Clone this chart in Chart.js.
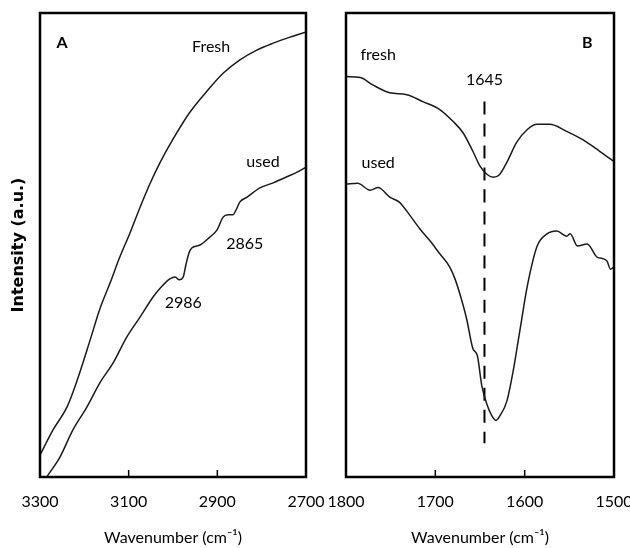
<!DOCTYPE html>
<html>
<head>
<meta charset="utf-8">
<script src="https://cdn.jsdelivr.net/npm/chart.js@4.4.0/dist/chart.umd.min.js"></script>
<style>
  body { margin: 0; background: #fff; }
  #wrap { position: relative; width: 630px; height: 548px; }
  #panelA { position: absolute; left: 0; top: 0; }
  #panelB { position: absolute; left: 326px; top: 0; }
</style>
</head>
<body>
<div id="wrap">
  <canvas id="panelA" width="326" height="548"></canvas>
  <canvas id="panelB" width="304" height="548"></canvas>
</div>
<script>
// panel A, 3300-2700 cm-1
let waveA_fresh = [3300, 3271, 3239, 3216, 3187, 3165, 3142, 3120, 3097, 3074, 3052, 3029, 3000, 2962, 2923, 2887, 2849, 2811, 2774, 2736, 2700];
let intA_fresh  = [4.7, 10.1, 15.1, 20.9, 29.5, 36.2, 41.8, 47.4, 52.6, 58.2, 63.2, 67.8, 72.8, 78.6, 83.2, 87.0, 89.9, 92.0, 93.5, 94.8, 95.9];

let waveA_used = [3300, 3282, 3255, 3226, 3194, 3165, 3135, 3104, 3074, 3045, 3029, 3007, 2995, 2986, 2977, 2971, 2964, 2957, 2939, 2917, 2901, 2887, 2876, 2865, 2858, 2849, 2833, 2804, 2774, 2743, 2720, 2700];
let intA_used  = [-2.2, 0.4, 4.3, 10.1, 15.1, 20.3, 24.6, 30.2, 34.5, 38.8, 40.7, 42.7, 43.1, 42.5, 43.1, 45.7, 48.3, 49.4, 50.0, 51.7, 53.2, 56.0, 56.5, 56.5, 57.5, 59.3, 60.3, 62.3, 63.4, 64.7, 65.7, 66.8];

// panel B, 1800-1500 cm-1
let waveB_fresh = [1800, 1784, 1770, 1751, 1732, 1714, 1695, 1680, 1669, 1658, 1650, 1642, 1635, 1628, 1620, 1609, 1597, 1586, 1572, 1553, 1535, 1516, 1500];
let intB_fresh  = [86.3, 86.1, 84.5, 82.8, 82.4, 80.9, 79.2, 76.6, 74.2, 70.2, 67.0, 65.2, 64.6, 65.2, 67.8, 72.1, 74.9, 76.0, 76.0, 74.5, 72.7, 70.2, 68.0];

let waveB_used = [1800, 1787, 1773, 1764, 1751, 1740, 1732, 1717, 1706, 1695, 1684, 1678, 1672, 1665, 1658, 1653, 1648, 1642, 1637, 1632, 1628, 1620, 1613, 1605, 1597, 1586, 1575, 1564, 1553, 1549, 1541, 1530, 1519, 1508, 1504, 1500];
let intB_used  = [63.1, 63.3, 61.8, 62.4, 60.3, 59.2, 57.3, 53.4, 50.9, 48.1, 45.3, 42.7, 39.1, 34.1, 27.7, 26.2, 19.7, 15.5, 13.3, 12.2, 13.1, 16.3, 22.7, 32.0, 41.2, 49.8, 52.4, 53.0, 51.9, 52.4, 49.8, 50.2, 47.4, 46.6, 44.8, 45.3];

let ticksA = [3300, 3100, 2900, 2700];
let ticksB = [1800, 1700, 1600, 1500];
let peakB = 1645;

const FONT = "Lato, 'Noto Sans', sans-serif";
const INK = '#000';

// text placed in data coordinates
let notesA = [
  {text: 'A', x: 3250, y: 93.5, bold: true},
  {text: 'Fresh', x: 2914, y: 92.7},
  {text: 'used', x: 2797, y: 67.9},
  {text: '2865', x: 2838, y: 50.2},
  {text: '2986', x: 2977, y: 37.5}
];
let notesB = [
  {text: 'fresh', x: 1764, y: 91.0},
  {text: 'B', x: 1530, y: 93.6, bold: true},
  {text: String(peakB), x: peakB, y: 85.6},
  {text: 'used', x: 1764, y: 67.8}
];

function pts(xs, ys) {
  return xs.map((x, i) => ({x: x, y: ys[i]}));
}

// box round the plot area and short inward ticks on the bottom edge
const framePlugin = {
  id: 'frame',
  afterDraw(chart, args, opts) {
    const ctx = chart.ctx;
    const a = chart.chartArea;
    const xs = chart.scales.x;
    ctx.save();
    ctx.strokeStyle = '#000';
    ctx.lineWidth = 1.5;
    opts.ticks.slice(1, -1).forEach(v => {
      const px = xs.getPixelForValue(v);
      ctx.beginPath();
      ctx.moveTo(px, a.bottom);
      ctx.lineTo(px, a.bottom - 7);
      ctx.stroke();
    });
    ctx.lineWidth = 2.5;
    ctx.strokeRect(a.left, a.top, a.right - a.left, a.bottom - a.top);
    ctx.restore();
  }
};

const notesPlugin = {
  id: 'notes',
  afterDatasetsDraw(chart, args, opts) {
    const ctx = chart.ctx;
    ctx.save();
    ctx.fillStyle = INK;
    ctx.textAlign = 'center';
    ctx.textBaseline = 'middle';
    opts.items.forEach(n => {
      ctx.font = (n.bold ? 'bold ' : '') + '16px ' + FONT;
      ctx.fillText(n.text, chart.scales.x.getPixelForValue(n.x), chart.scales.y.getPixelForValue(n.y));
    });
    ctx.restore();
  }
};

function lineSet(data) {
  return {
    data: data,
    borderColor: '#1a1a1a',
    borderWidth: 1.5,
    pointRadius: 0,
    cubicInterpolationMode: 'monotone',
    fill: false
  };
}

function makeChart(id, sets, lo, hi, ticks, notes, showY, pad) {
  return new Chart(document.getElementById(id), {
    type: 'line',
    data: {datasets: sets},
    plugins: [framePlugin, notesPlugin],
    options: {
      responsive: false,
      animation: false,
      layout: {padding: pad, autoPadding: false},
      plugins: {
        legend: {display: false},
        tooltip: {enabled: false},
        frame: {ticks: ticks},
        notes: {items: notes}
      },
      scales: {
        x: {
          type: 'linear',
          reverse: true,
          min: lo,
          max: hi,
          afterBuildTicks: s => { s.ticks = ticks.map(v => ({value: v})); },
          afterFit: s => {
            s.height = 71;
            s.paddingLeft = 0;
            s.paddingRight = 0;
          },
          grid: {display: false, drawTicks: false},
          border: {display: false},
          ticks: {
            padding: 15,
            color: INK,
            font: {family: FONT, size: 16},
            maxRotation: 0,
            autoSkip: false,
            callback: v => String(v)
          },
          title: {
            display: true,
            text: 'Wavenumber (cm\u207B\u00B9)',
            color: INK,
            font: {family: FONT, size: 16},
            padding: {top: 0, bottom: 1}
          }
        },
        y: {
          min: 0,
          max: 100,
          display: showY,
          afterFit: s => { if (showY) s.width = 40; },
          grid: {display: false},
          border: {display: false},
          ticks: {display: false},
          title: {
            display: showY,
            text: 'Intensity (a.u.)',
            color: INK,
            font: {family: "'DejaVu Sans', sans-serif", size: 16, weight: 'bold'},
            padding: {top: 9, bottom: 0}
          }
        }
      }
    }
  });
}

makeChart('panelA',
  [lineSet(pts(waveA_fresh, intA_fresh)), lineSet(pts(waveA_used, intA_used))],
  2700, 3300, ticksA, notesA, true,
  {top: 13, right: 20, bottom: 0, left: 0});

let peakLine = lineSet([{x: peakB, y: 80.9}, {x: peakB, y: 7.3}]);
peakLine.borderDash = [13, 9];
peakLine.borderWidth = 2;
peakLine.borderColor = '#000';

makeChart('panelB',
  [lineSet(pts(waveB_fresh, intB_fresh)), lineSet(pts(waveB_used, intB_used)), peakLine],
  1500, 1800, ticksB, notesB, false,
  {top: 13, right: 16, bottom: 0, left: 20});
</script>
</body>
</html>
